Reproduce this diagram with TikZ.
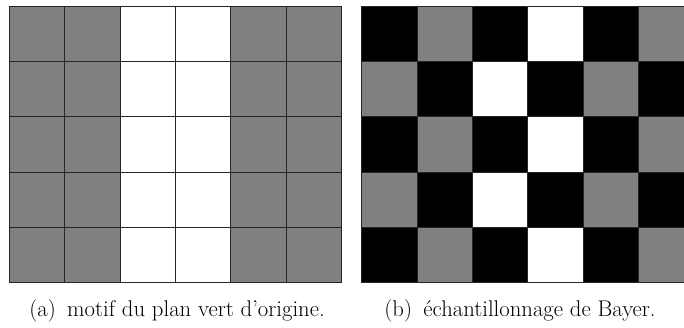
\documentclass[tikz,border=0pt]{standalone}
\begin{document}
\begin{tikzpicture}[x=1pt,y=-1pt,
  cell/.style={draw=black!85,line width=0.9pt},
  greycell/.style={cell,fill=black!50},
  blackcell/.style={cell,fill=black},
  whitecell/.style={cell,fill=white},
  captext/.style={font=\fontsize{22.7}{27}\selectfont,anchor=base,inner sep=0pt}]
\clip (0,0) rectangle (684,327);
\fill[white] (0,0) rectangle (684,327);
\def\cw{55.33}
% left panel: two grey columns, two white columns, two grey columns
\foreach \r in {0,...,4} {
  \foreach \c in {0,...,5} {
    \pgfmathsetmacro{\xa}{9.5+\c*\cw}
    \pgfmathsetmacro{\ya}{6+\r*\cw}
    \ifnum\c=2 \def\st{whitecell}\else\ifnum\c=3 \def\st{whitecell}\else\def\st{greycell}\fi\fi
    \path[\st] (\xa,\ya) rectangle ++(\cw,\cw);
  }
}
% right panel: Bayer mosaic
\foreach \r in {0,...,4} {
  \foreach \c in {0,...,5} {
    \pgfmathsetmacro{\xa}{361.7+\c*\cw}
    \pgfmathsetmacro{\ya}{6+\r*\cw}
    \pgfmathtruncatemacro{\parity}{mod(\r+\c,2)}
    \pgfmathtruncatemacro{\wc}{3-mod(\r,2)}
    \ifnum\parity=0 \def\st{blackcell}\else\ifnum\c=\wc \def\st{whitecell}\else\def\st{greycell}\fi\fi
    \path[\st] (\xa,\ya) rectangle ++(\cw,\cw);
  }
}
\node[captext] (capA) at (177,316) {(a)\hspace{0.5em}motif du plan vert d'origine.};
\node[captext] (capB) at (520,316) {(b)\hspace{0.5em}échantillonnage de Bayer.};
\end{tikzpicture}
\end{document}
